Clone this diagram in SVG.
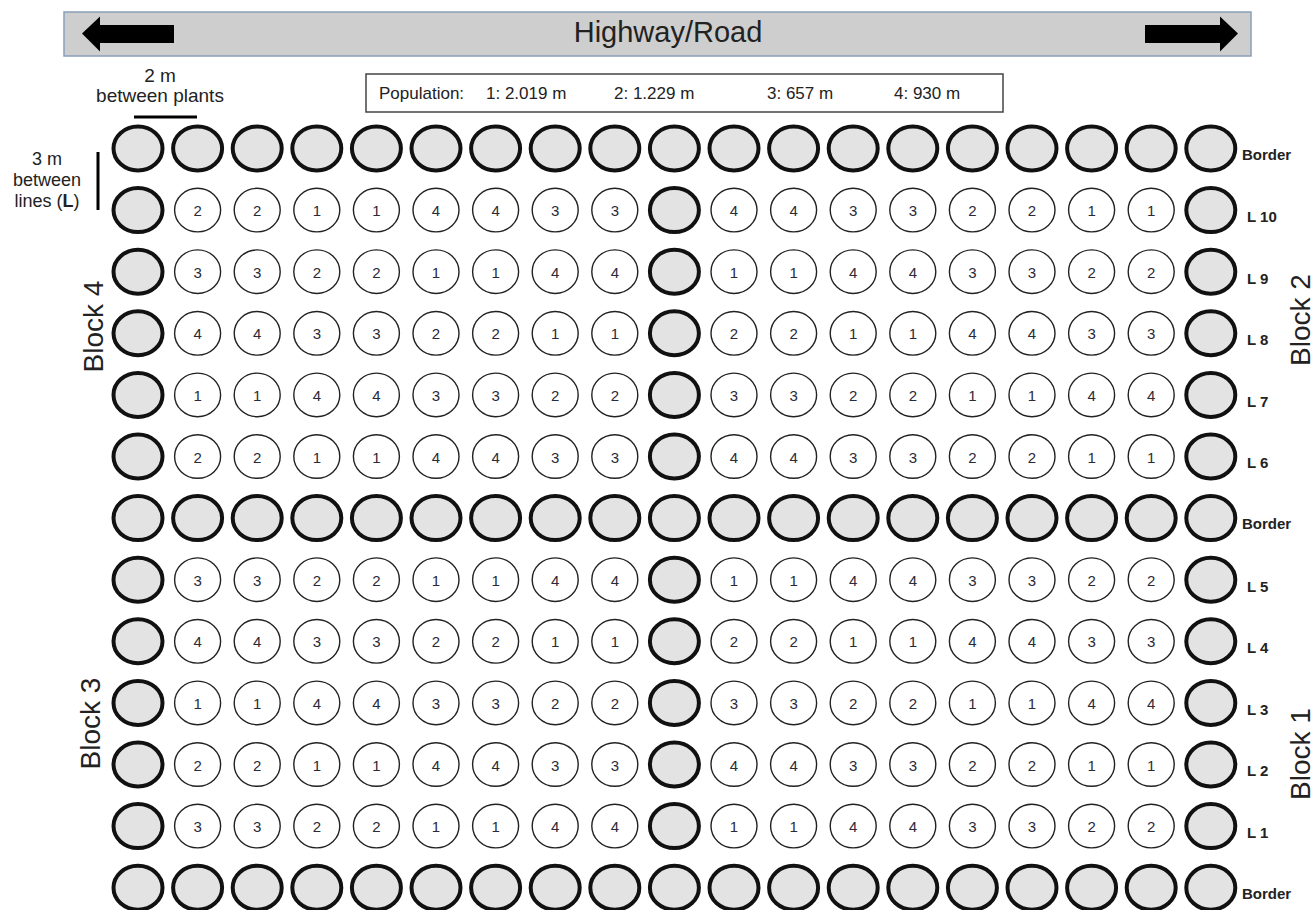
<svg xmlns="http://www.w3.org/2000/svg" width="1314" height="910" viewBox="0 0 1314 910">
<style>
text{font-family:"Liberation Sans",Arial,sans-serif;fill:#222}
.t{font-size:15px;text-anchor:middle;fill:#2a2a38}
.lab{font-size:15px;font-weight:bold}
.blk{font-size:28px;text-anchor:middle}
.ann{font-size:18px;text-anchor:middle}
.pop{font-size:17px}
</style>
<defs>
<ellipse id="B" cx="0" cy="0" rx="24.5" ry="22" fill="#e3e3e3" stroke="#111" stroke-width="4"/>
<ellipse id="S" cx="0" cy="0" rx="23" ry="21.8" fill="#fff" stroke="#222" stroke-width="1.4"/>
</defs>
<rect width="1314" height="910" fill="#fff"/>
<g id="highway">
<rect x="64" y="12" width="1187" height="44" fill="#cecece" stroke="#8aa0b8" stroke-width="1.5"/>
<polygon points="82,33.5 100,16.5 100,25 174,25 174,43 100,43 100,51.5" fill="#000"/>
<polygon points="1145,25 1220,25 1220,16.5 1238,33.5 1220,51.5 1220,43 1145,43" fill="#000"/>
<text x="668" y="42" font-size="29" text-anchor="middle">Highway/Road</text>
</g>
<g id="population">
<rect x="366" y="74" width="637" height="38" fill="#fff" stroke="#444" stroke-width="1.5"/>
<text class="pop" x="379" y="99">Population:</text>
<text class="pop" x="486" y="99">1: 2.019 m</text>
<text class="pop" x="614" y="99">2: 1.229 m</text>
<text class="pop" x="767" y="99">3: 657 m</text>
<text class="pop" x="894" y="99">4: 930 m</text>
</g>
<g id="spacing-labels">
<text class="ann" x="160" y="82" style="font-size:19px">2 m</text>
<text class="ann" x="160" y="102" style="font-size:19px">between plants</text>
<text class="ann" x="47" y="165">3 m</text>
<text class="ann" x="47" y="186">between</text>
<text class="ann" x="47" y="207">lines (<tspan font-weight="bold">L</tspan>)</text>
</g>
<g id="connectors" stroke="#000" stroke-width="3">
<line x1="134" y1="117" x2="197" y2="117"/>
<line x1="98" y1="152" x2="98" y2="210"/>
</g>
<g id="block-labels">
<text class="blk" transform="translate(103,326.5) rotate(-90)">Block 4</text>
<text class="blk" transform="translate(100,723.5) rotate(-90)">Block 3</text>
<text class="blk" transform="translate(1310,320) rotate(-90)">Block 2</text>
<text class="blk" transform="translate(1310,754) rotate(-90)">Block 1</text>
</g>
<g id="row-labels">
<text class="lab" x="1242" y="159.5">Border</text>
<text class="lab" x="1247" y="222">L 10</text>
<text class="lab" x="1247" y="283.5">L 9</text>
<text class="lab" x="1247" y="345">L 8</text>
<text class="lab" x="1247" y="406.5">L 7</text>
<text class="lab" x="1247" y="468">L 6</text>
<text class="lab" x="1242" y="529">Border</text>
<text class="lab" x="1247" y="591.5">L 5</text>
<text class="lab" x="1247" y="653">L 4</text>
<text class="lab" x="1247" y="714.5">L 3</text>
<text class="lab" x="1247" y="776">L 2</text>
<text class="lab" x="1247" y="837.5">L 1</text>
<text class="lab" x="1242" y="898.5">Border</text>
</g>

<g id="row-border-top" transform="translate(0,148.5)">
<g id="bt-c0"><use href="#B" x="138"/></g>
<g id="bt-c1"><use href="#B" x="197.6"/></g>
<g id="bt-c2"><use href="#B" x="257.2"/></g>
<g id="bt-c3"><use href="#B" x="316.8"/></g>
<g id="bt-c4"><use href="#B" x="376.4"/></g>
<g id="bt-c5"><use href="#B" x="436"/></g>
<g id="bt-c6"><use href="#B" x="495.6"/></g>
<g id="bt-c7"><use href="#B" x="555.2"/></g>
<g id="bt-c8"><use href="#B" x="614.8"/></g>
<g id="bt-c9"><use href="#B" x="674.4"/></g>
<g id="bt-c10"><use href="#B" x="734"/></g>
<g id="bt-c11"><use href="#B" x="793.6"/></g>
<g id="bt-c12"><use href="#B" x="853.2"/></g>
<g id="bt-c13"><use href="#B" x="912.8"/></g>
<g id="bt-c14"><use href="#B" x="972.4"/></g>
<g id="bt-c15"><use href="#B" x="1032"/></g>
<g id="bt-c16"><use href="#B" x="1091.6"/></g>
<g id="bt-c17"><use href="#B" x="1151.2"/></g>
<g id="bt-c18"><use href="#B" x="1210.8"/></g>
</g>

<g id="row-L10" transform="translate(0,210.1)">
<g id="L10-c0"><use href="#B" x="138"/></g>
<g id="L10-c1"><use href="#S" x="197.6"/><text class="t" x="197.6" y="6">2</text></g>
<g id="L10-c2"><use href="#S" x="257.2"/><text class="t" x="257.2" y="6">2</text></g>
<g id="L10-c3"><use href="#S" x="316.8"/><text class="t" x="316.8" y="6">1</text></g>
<g id="L10-c4"><use href="#S" x="376.4"/><text class="t" x="376.4" y="6">1</text></g>
<g id="L10-c5"><use href="#S" x="436"/><text class="t" x="436" y="6">4</text></g>
<g id="L10-c6"><use href="#S" x="495.6"/><text class="t" x="495.6" y="6">4</text></g>
<g id="L10-c7"><use href="#S" x="555.2"/><text class="t" x="555.2" y="6">3</text></g>
<g id="L10-c8"><use href="#S" x="614.8"/><text class="t" x="614.8" y="6">3</text></g>
<g id="L10-c9"><use href="#B" x="674.4"/></g>
<g id="L10-c10"><use href="#S" x="734"/><text class="t" x="734" y="6">4</text></g>
<g id="L10-c11"><use href="#S" x="793.6"/><text class="t" x="793.6" y="6">4</text></g>
<g id="L10-c12"><use href="#S" x="853.2"/><text class="t" x="853.2" y="6">3</text></g>
<g id="L10-c13"><use href="#S" x="912.8"/><text class="t" x="912.8" y="6">3</text></g>
<g id="L10-c14"><use href="#S" x="972.4"/><text class="t" x="972.4" y="6">2</text></g>
<g id="L10-c15"><use href="#S" x="1032"/><text class="t" x="1032" y="6">2</text></g>
<g id="L10-c16"><use href="#S" x="1091.6"/><text class="t" x="1091.6" y="6">1</text></g>
<g id="L10-c17"><use href="#S" x="1151.2"/><text class="t" x="1151.2" y="6">1</text></g>
<g id="L10-c18"><use href="#B" x="1210.8"/></g>
</g>

<g id="row-L9" transform="translate(0,271.7)">
<g id="L9-c0"><use href="#B" x="138"/></g>
<g id="L9-c1"><use href="#S" x="197.6"/><text class="t" x="197.6" y="6">3</text></g>
<g id="L9-c2"><use href="#S" x="257.2"/><text class="t" x="257.2" y="6">3</text></g>
<g id="L9-c3"><use href="#S" x="316.8"/><text class="t" x="316.8" y="6">2</text></g>
<g id="L9-c4"><use href="#S" x="376.4"/><text class="t" x="376.4" y="6">2</text></g>
<g id="L9-c5"><use href="#S" x="436"/><text class="t" x="436" y="6">1</text></g>
<g id="L9-c6"><use href="#S" x="495.6"/><text class="t" x="495.6" y="6">1</text></g>
<g id="L9-c7"><use href="#S" x="555.2"/><text class="t" x="555.2" y="6">4</text></g>
<g id="L9-c8"><use href="#S" x="614.8"/><text class="t" x="614.8" y="6">4</text></g>
<g id="L9-c9"><use href="#B" x="674.4"/></g>
<g id="L9-c10"><use href="#S" x="734"/><text class="t" x="734" y="6">1</text></g>
<g id="L9-c11"><use href="#S" x="793.6"/><text class="t" x="793.6" y="6">1</text></g>
<g id="L9-c12"><use href="#S" x="853.2"/><text class="t" x="853.2" y="6">4</text></g>
<g id="L9-c13"><use href="#S" x="912.8"/><text class="t" x="912.8" y="6">4</text></g>
<g id="L9-c14"><use href="#S" x="972.4"/><text class="t" x="972.4" y="6">3</text></g>
<g id="L9-c15"><use href="#S" x="1032"/><text class="t" x="1032" y="6">3</text></g>
<g id="L9-c16"><use href="#S" x="1091.6"/><text class="t" x="1091.6" y="6">2</text></g>
<g id="L9-c17"><use href="#S" x="1151.2"/><text class="t" x="1151.2" y="6">2</text></g>
<g id="L9-c18"><use href="#B" x="1210.8"/></g>
</g>

<g id="row-L8" transform="translate(0,333.3)">
<g id="L8-c0"><use href="#B" x="138"/></g>
<g id="L8-c1"><use href="#S" x="197.6"/><text class="t" x="197.6" y="6">4</text></g>
<g id="L8-c2"><use href="#S" x="257.2"/><text class="t" x="257.2" y="6">4</text></g>
<g id="L8-c3"><use href="#S" x="316.8"/><text class="t" x="316.8" y="6">3</text></g>
<g id="L8-c4"><use href="#S" x="376.4"/><text class="t" x="376.4" y="6">3</text></g>
<g id="L8-c5"><use href="#S" x="436"/><text class="t" x="436" y="6">2</text></g>
<g id="L8-c6"><use href="#S" x="495.6"/><text class="t" x="495.6" y="6">2</text></g>
<g id="L8-c7"><use href="#S" x="555.2"/><text class="t" x="555.2" y="6">1</text></g>
<g id="L8-c8"><use href="#S" x="614.8"/><text class="t" x="614.8" y="6">1</text></g>
<g id="L8-c9"><use href="#B" x="674.4"/></g>
<g id="L8-c10"><use href="#S" x="734"/><text class="t" x="734" y="6">2</text></g>
<g id="L8-c11"><use href="#S" x="793.6"/><text class="t" x="793.6" y="6">2</text></g>
<g id="L8-c12"><use href="#S" x="853.2"/><text class="t" x="853.2" y="6">1</text></g>
<g id="L8-c13"><use href="#S" x="912.8"/><text class="t" x="912.8" y="6">1</text></g>
<g id="L8-c14"><use href="#S" x="972.4"/><text class="t" x="972.4" y="6">4</text></g>
<g id="L8-c15"><use href="#S" x="1032"/><text class="t" x="1032" y="6">4</text></g>
<g id="L8-c16"><use href="#S" x="1091.6"/><text class="t" x="1091.6" y="6">3</text></g>
<g id="L8-c17"><use href="#S" x="1151.2"/><text class="t" x="1151.2" y="6">3</text></g>
<g id="L8-c18"><use href="#B" x="1210.8"/></g>
</g>

<g id="row-L7" transform="translate(0,394.9)">
<g id="L7-c0"><use href="#B" x="138"/></g>
<g id="L7-c1"><use href="#S" x="197.6"/><text class="t" x="197.6" y="6">1</text></g>
<g id="L7-c2"><use href="#S" x="257.2"/><text class="t" x="257.2" y="6">1</text></g>
<g id="L7-c3"><use href="#S" x="316.8"/><text class="t" x="316.8" y="6">4</text></g>
<g id="L7-c4"><use href="#S" x="376.4"/><text class="t" x="376.4" y="6">4</text></g>
<g id="L7-c5"><use href="#S" x="436"/><text class="t" x="436" y="6">3</text></g>
<g id="L7-c6"><use href="#S" x="495.6"/><text class="t" x="495.6" y="6">3</text></g>
<g id="L7-c7"><use href="#S" x="555.2"/><text class="t" x="555.2" y="6">2</text></g>
<g id="L7-c8"><use href="#S" x="614.8"/><text class="t" x="614.8" y="6">2</text></g>
<g id="L7-c9"><use href="#B" x="674.4"/></g>
<g id="L7-c10"><use href="#S" x="734"/><text class="t" x="734" y="6">3</text></g>
<g id="L7-c11"><use href="#S" x="793.6"/><text class="t" x="793.6" y="6">3</text></g>
<g id="L7-c12"><use href="#S" x="853.2"/><text class="t" x="853.2" y="6">2</text></g>
<g id="L7-c13"><use href="#S" x="912.8"/><text class="t" x="912.8" y="6">2</text></g>
<g id="L7-c14"><use href="#S" x="972.4"/><text class="t" x="972.4" y="6">1</text></g>
<g id="L7-c15"><use href="#S" x="1032"/><text class="t" x="1032" y="6">1</text></g>
<g id="L7-c16"><use href="#S" x="1091.6"/><text class="t" x="1091.6" y="6">4</text></g>
<g id="L7-c17"><use href="#S" x="1151.2"/><text class="t" x="1151.2" y="6">4</text></g>
<g id="L7-c18"><use href="#B" x="1210.8"/></g>
</g>

<g id="row-L6" transform="translate(0,456.5)">
<g id="L6-c0"><use href="#B" x="138"/></g>
<g id="L6-c1"><use href="#S" x="197.6"/><text class="t" x="197.6" y="6">2</text></g>
<g id="L6-c2"><use href="#S" x="257.2"/><text class="t" x="257.2" y="6">2</text></g>
<g id="L6-c3"><use href="#S" x="316.8"/><text class="t" x="316.8" y="6">1</text></g>
<g id="L6-c4"><use href="#S" x="376.4"/><text class="t" x="376.4" y="6">1</text></g>
<g id="L6-c5"><use href="#S" x="436"/><text class="t" x="436" y="6">4</text></g>
<g id="L6-c6"><use href="#S" x="495.6"/><text class="t" x="495.6" y="6">4</text></g>
<g id="L6-c7"><use href="#S" x="555.2"/><text class="t" x="555.2" y="6">3</text></g>
<g id="L6-c8"><use href="#S" x="614.8"/><text class="t" x="614.8" y="6">3</text></g>
<g id="L6-c9"><use href="#B" x="674.4"/></g>
<g id="L6-c10"><use href="#S" x="734"/><text class="t" x="734" y="6">4</text></g>
<g id="L6-c11"><use href="#S" x="793.6"/><text class="t" x="793.6" y="6">4</text></g>
<g id="L6-c12"><use href="#S" x="853.2"/><text class="t" x="853.2" y="6">3</text></g>
<g id="L6-c13"><use href="#S" x="912.8"/><text class="t" x="912.8" y="6">3</text></g>
<g id="L6-c14"><use href="#S" x="972.4"/><text class="t" x="972.4" y="6">2</text></g>
<g id="L6-c15"><use href="#S" x="1032"/><text class="t" x="1032" y="6">2</text></g>
<g id="L6-c16"><use href="#S" x="1091.6"/><text class="t" x="1091.6" y="6">1</text></g>
<g id="L6-c17"><use href="#S" x="1151.2"/><text class="t" x="1151.2" y="6">1</text></g>
<g id="L6-c18"><use href="#B" x="1210.8"/></g>
</g>

<g id="row-border-mid" transform="translate(0,518.1)">
<g id="bm-c0"><use href="#B" x="138"/></g>
<g id="bm-c1"><use href="#B" x="197.6"/></g>
<g id="bm-c2"><use href="#B" x="257.2"/></g>
<g id="bm-c3"><use href="#B" x="316.8"/></g>
<g id="bm-c4"><use href="#B" x="376.4"/></g>
<g id="bm-c5"><use href="#B" x="436"/></g>
<g id="bm-c6"><use href="#B" x="495.6"/></g>
<g id="bm-c7"><use href="#B" x="555.2"/></g>
<g id="bm-c8"><use href="#B" x="614.8"/></g>
<g id="bm-c9"><use href="#B" x="674.4"/></g>
<g id="bm-c10"><use href="#B" x="734"/></g>
<g id="bm-c11"><use href="#B" x="793.6"/></g>
<g id="bm-c12"><use href="#B" x="853.2"/></g>
<g id="bm-c13"><use href="#B" x="912.8"/></g>
<g id="bm-c14"><use href="#B" x="972.4"/></g>
<g id="bm-c15"><use href="#B" x="1032"/></g>
<g id="bm-c16"><use href="#B" x="1091.6"/></g>
<g id="bm-c17"><use href="#B" x="1151.2"/></g>
<g id="bm-c18"><use href="#B" x="1210.8"/></g>
</g>

<g id="row-L5" transform="translate(0,579.7)">
<g id="L5-c0"><use href="#B" x="138"/></g>
<g id="L5-c1"><use href="#S" x="197.6"/><text class="t" x="197.6" y="6">3</text></g>
<g id="L5-c2"><use href="#S" x="257.2"/><text class="t" x="257.2" y="6">3</text></g>
<g id="L5-c3"><use href="#S" x="316.8"/><text class="t" x="316.8" y="6">2</text></g>
<g id="L5-c4"><use href="#S" x="376.4"/><text class="t" x="376.4" y="6">2</text></g>
<g id="L5-c5"><use href="#S" x="436"/><text class="t" x="436" y="6">1</text></g>
<g id="L5-c6"><use href="#S" x="495.6"/><text class="t" x="495.6" y="6">1</text></g>
<g id="L5-c7"><use href="#S" x="555.2"/><text class="t" x="555.2" y="6">4</text></g>
<g id="L5-c8"><use href="#S" x="614.8"/><text class="t" x="614.8" y="6">4</text></g>
<g id="L5-c9"><use href="#B" x="674.4"/></g>
<g id="L5-c10"><use href="#S" x="734"/><text class="t" x="734" y="6">1</text></g>
<g id="L5-c11"><use href="#S" x="793.6"/><text class="t" x="793.6" y="6">1</text></g>
<g id="L5-c12"><use href="#S" x="853.2"/><text class="t" x="853.2" y="6">4</text></g>
<g id="L5-c13"><use href="#S" x="912.8"/><text class="t" x="912.8" y="6">4</text></g>
<g id="L5-c14"><use href="#S" x="972.4"/><text class="t" x="972.4" y="6">3</text></g>
<g id="L5-c15"><use href="#S" x="1032"/><text class="t" x="1032" y="6">3</text></g>
<g id="L5-c16"><use href="#S" x="1091.6"/><text class="t" x="1091.6" y="6">2</text></g>
<g id="L5-c17"><use href="#S" x="1151.2"/><text class="t" x="1151.2" y="6">2</text></g>
<g id="L5-c18"><use href="#B" x="1210.8"/></g>
</g>

<g id="row-L4" transform="translate(0,641.3)">
<g id="L4-c0"><use href="#B" x="138"/></g>
<g id="L4-c1"><use href="#S" x="197.6"/><text class="t" x="197.6" y="6">4</text></g>
<g id="L4-c2"><use href="#S" x="257.2"/><text class="t" x="257.2" y="6">4</text></g>
<g id="L4-c3"><use href="#S" x="316.8"/><text class="t" x="316.8" y="6">3</text></g>
<g id="L4-c4"><use href="#S" x="376.4"/><text class="t" x="376.4" y="6">3</text></g>
<g id="L4-c5"><use href="#S" x="436"/><text class="t" x="436" y="6">2</text></g>
<g id="L4-c6"><use href="#S" x="495.6"/><text class="t" x="495.6" y="6">2</text></g>
<g id="L4-c7"><use href="#S" x="555.2"/><text class="t" x="555.2" y="6">1</text></g>
<g id="L4-c8"><use href="#S" x="614.8"/><text class="t" x="614.8" y="6">1</text></g>
<g id="L4-c9"><use href="#B" x="674.4"/></g>
<g id="L4-c10"><use href="#S" x="734"/><text class="t" x="734" y="6">2</text></g>
<g id="L4-c11"><use href="#S" x="793.6"/><text class="t" x="793.6" y="6">2</text></g>
<g id="L4-c12"><use href="#S" x="853.2"/><text class="t" x="853.2" y="6">1</text></g>
<g id="L4-c13"><use href="#S" x="912.8"/><text class="t" x="912.8" y="6">1</text></g>
<g id="L4-c14"><use href="#S" x="972.4"/><text class="t" x="972.4" y="6">4</text></g>
<g id="L4-c15"><use href="#S" x="1032"/><text class="t" x="1032" y="6">4</text></g>
<g id="L4-c16"><use href="#S" x="1091.6"/><text class="t" x="1091.6" y="6">3</text></g>
<g id="L4-c17"><use href="#S" x="1151.2"/><text class="t" x="1151.2" y="6">3</text></g>
<g id="L4-c18"><use href="#B" x="1210.8"/></g>
</g>

<g id="row-L3" transform="translate(0,702.9)">
<g id="L3-c0"><use href="#B" x="138"/></g>
<g id="L3-c1"><use href="#S" x="197.6"/><text class="t" x="197.6" y="6">1</text></g>
<g id="L3-c2"><use href="#S" x="257.2"/><text class="t" x="257.2" y="6">1</text></g>
<g id="L3-c3"><use href="#S" x="316.8"/><text class="t" x="316.8" y="6">4</text></g>
<g id="L3-c4"><use href="#S" x="376.4"/><text class="t" x="376.4" y="6">4</text></g>
<g id="L3-c5"><use href="#S" x="436"/><text class="t" x="436" y="6">3</text></g>
<g id="L3-c6"><use href="#S" x="495.6"/><text class="t" x="495.6" y="6">3</text></g>
<g id="L3-c7"><use href="#S" x="555.2"/><text class="t" x="555.2" y="6">2</text></g>
<g id="L3-c8"><use href="#S" x="614.8"/><text class="t" x="614.8" y="6">2</text></g>
<g id="L3-c9"><use href="#B" x="674.4"/></g>
<g id="L3-c10"><use href="#S" x="734"/><text class="t" x="734" y="6">3</text></g>
<g id="L3-c11"><use href="#S" x="793.6"/><text class="t" x="793.6" y="6">3</text></g>
<g id="L3-c12"><use href="#S" x="853.2"/><text class="t" x="853.2" y="6">2</text></g>
<g id="L3-c13"><use href="#S" x="912.8"/><text class="t" x="912.8" y="6">2</text></g>
<g id="L3-c14"><use href="#S" x="972.4"/><text class="t" x="972.4" y="6">1</text></g>
<g id="L3-c15"><use href="#S" x="1032"/><text class="t" x="1032" y="6">1</text></g>
<g id="L3-c16"><use href="#S" x="1091.6"/><text class="t" x="1091.6" y="6">4</text></g>
<g id="L3-c17"><use href="#S" x="1151.2"/><text class="t" x="1151.2" y="6">4</text></g>
<g id="L3-c18"><use href="#B" x="1210.8"/></g>
</g>

<g id="row-L2" transform="translate(0,764.5)">
<g id="L2-c0"><use href="#B" x="138"/></g>
<g id="L2-c1"><use href="#S" x="197.6"/><text class="t" x="197.6" y="6">2</text></g>
<g id="L2-c2"><use href="#S" x="257.2"/><text class="t" x="257.2" y="6">2</text></g>
<g id="L2-c3"><use href="#S" x="316.8"/><text class="t" x="316.8" y="6">1</text></g>
<g id="L2-c4"><use href="#S" x="376.4"/><text class="t" x="376.4" y="6">1</text></g>
<g id="L2-c5"><use href="#S" x="436"/><text class="t" x="436" y="6">4</text></g>
<g id="L2-c6"><use href="#S" x="495.6"/><text class="t" x="495.6" y="6">4</text></g>
<g id="L2-c7"><use href="#S" x="555.2"/><text class="t" x="555.2" y="6">3</text></g>
<g id="L2-c8"><use href="#S" x="614.8"/><text class="t" x="614.8" y="6">3</text></g>
<g id="L2-c9"><use href="#B" x="674.4"/></g>
<g id="L2-c10"><use href="#S" x="734"/><text class="t" x="734" y="6">4</text></g>
<g id="L2-c11"><use href="#S" x="793.6"/><text class="t" x="793.6" y="6">4</text></g>
<g id="L2-c12"><use href="#S" x="853.2"/><text class="t" x="853.2" y="6">3</text></g>
<g id="L2-c13"><use href="#S" x="912.8"/><text class="t" x="912.8" y="6">3</text></g>
<g id="L2-c14"><use href="#S" x="972.4"/><text class="t" x="972.4" y="6">2</text></g>
<g id="L2-c15"><use href="#S" x="1032"/><text class="t" x="1032" y="6">2</text></g>
<g id="L2-c16"><use href="#S" x="1091.6"/><text class="t" x="1091.6" y="6">1</text></g>
<g id="L2-c17"><use href="#S" x="1151.2"/><text class="t" x="1151.2" y="6">1</text></g>
<g id="L2-c18"><use href="#B" x="1210.8"/></g>
</g>

<g id="row-L1" transform="translate(0,826.1)">
<g id="L1-c0"><use href="#B" x="138"/></g>
<g id="L1-c1"><use href="#S" x="197.6"/><text class="t" x="197.6" y="6">3</text></g>
<g id="L1-c2"><use href="#S" x="257.2"/><text class="t" x="257.2" y="6">3</text></g>
<g id="L1-c3"><use href="#S" x="316.8"/><text class="t" x="316.8" y="6">2</text></g>
<g id="L1-c4"><use href="#S" x="376.4"/><text class="t" x="376.4" y="6">2</text></g>
<g id="L1-c5"><use href="#S" x="436"/><text class="t" x="436" y="6">1</text></g>
<g id="L1-c6"><use href="#S" x="495.6"/><text class="t" x="495.6" y="6">1</text></g>
<g id="L1-c7"><use href="#S" x="555.2"/><text class="t" x="555.2" y="6">4</text></g>
<g id="L1-c8"><use href="#S" x="614.8"/><text class="t" x="614.8" y="6">4</text></g>
<g id="L1-c9"><use href="#B" x="674.4"/></g>
<g id="L1-c10"><use href="#S" x="734"/><text class="t" x="734" y="6">1</text></g>
<g id="L1-c11"><use href="#S" x="793.6"/><text class="t" x="793.6" y="6">1</text></g>
<g id="L1-c12"><use href="#S" x="853.2"/><text class="t" x="853.2" y="6">4</text></g>
<g id="L1-c13"><use href="#S" x="912.8"/><text class="t" x="912.8" y="6">4</text></g>
<g id="L1-c14"><use href="#S" x="972.4"/><text class="t" x="972.4" y="6">3</text></g>
<g id="L1-c15"><use href="#S" x="1032"/><text class="t" x="1032" y="6">3</text></g>
<g id="L1-c16"><use href="#S" x="1091.6"/><text class="t" x="1091.6" y="6">2</text></g>
<g id="L1-c17"><use href="#S" x="1151.2"/><text class="t" x="1151.2" y="6">2</text></g>
<g id="L1-c18"><use href="#B" x="1210.8"/></g>
</g>

<g id="row-border-bottom" transform="translate(0,887.7)">
<g id="bb-c0"><use href="#B" x="138"/></g>
<g id="bb-c1"><use href="#B" x="197.6"/></g>
<g id="bb-c2"><use href="#B" x="257.2"/></g>
<g id="bb-c3"><use href="#B" x="316.8"/></g>
<g id="bb-c4"><use href="#B" x="376.4"/></g>
<g id="bb-c5"><use href="#B" x="436"/></g>
<g id="bb-c6"><use href="#B" x="495.6"/></g>
<g id="bb-c7"><use href="#B" x="555.2"/></g>
<g id="bb-c8"><use href="#B" x="614.8"/></g>
<g id="bb-c9"><use href="#B" x="674.4"/></g>
<g id="bb-c10"><use href="#B" x="734"/></g>
<g id="bb-c11"><use href="#B" x="793.6"/></g>
<g id="bb-c12"><use href="#B" x="853.2"/></g>
<g id="bb-c13"><use href="#B" x="912.8"/></g>
<g id="bb-c14"><use href="#B" x="972.4"/></g>
<g id="bb-c15"><use href="#B" x="1032"/></g>
<g id="bb-c16"><use href="#B" x="1091.6"/></g>
<g id="bb-c17"><use href="#B" x="1151.2"/></g>
<g id="bb-c18"><use href="#B" x="1210.8"/></g>
</g>
</svg>
